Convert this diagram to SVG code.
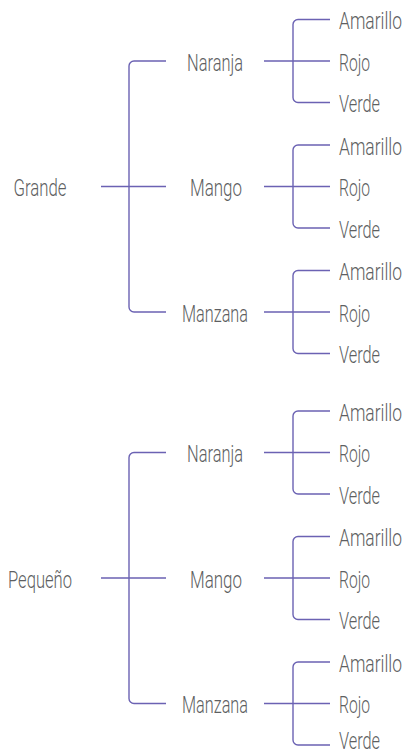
<svg xmlns="http://www.w3.org/2000/svg" width="406" height="756" viewBox="0 0 406 756">
<style>
.c{fill:none;stroke:#6b62b3;stroke-width:1.4}
text{font-family:Roboto,"Liberation Sans",Arial,sans-serif;font-weight:300;font-size:24px;fill:#5e5f62}
.m{text-anchor:middle}
</style>
<rect width="406" height="756" fill="#fff"/>
<g id="connectors">
<path class="c" d="M101 186.5H166M166 61H134A5 5 0 0 0 129 66V307A5 5 0 0 0 134 312H166"/>
<path class="c" d="M264 61H330M330 19.5H298A5 5 0 0 0 293 24.5V97.5A5 5 0 0 0 298 102.5H330"/>
<path class="c" d="M264 186.5H330M330 145H298A5 5 0 0 0 293 150V223A5 5 0 0 0 298 228H330"/>
<path class="c" d="M264 312H330M330 270.5H298A5 5 0 0 0 293 275.5V348.5A5 5 0 0 0 298 353.5H330"/>
<path class="c" d="M101 578H166M166 452.5H134A5 5 0 0 0 129 457.5V698.5A5 5 0 0 0 134 703.5H166"/>
<path class="c" d="M264 452.5H330M330 411H298A5 5 0 0 0 293 416V489A5 5 0 0 0 298 494H330"/>
<path class="c" d="M264 578H330M330 536.5H298A5 5 0 0 0 293 541.5V614.5A5 5 0 0 0 298 619.5H330"/>
<path class="c" d="M264 703.5H330M330 662H298A5 5 0 0 0 293 667V740A5 5 0 0 0 298 745H330"/>
</g>
<g id="grande"><text class="m" transform="translate(40 196) scale(0.7 1)" textLength="75.7" lengthAdjust="spacingAndGlyphs">Grande</text></g>
<g id="g-naranja"><text class="m" transform="translate(215 70.5) scale(0.7 1)" textLength="80" lengthAdjust="spacingAndGlyphs">Naranja</text></g>
<g id="g-mango"><text class="m" transform="translate(216 196) scale(0.7 1)" textLength="74.3" lengthAdjust="spacingAndGlyphs">Mango</text></g>
<g id="g-manzana"><text class="m" transform="translate(215 321.5) scale(0.7 1)" textLength="94.3" lengthAdjust="spacingAndGlyphs">Manzana</text></g>
<g id="g-naranja-amarillo"><text transform="translate(339 29) scale(0.7 1)" textLength="90" lengthAdjust="spacingAndGlyphs">Amarillo</text></g>
<g id="g-naranja-rojo"><text transform="translate(339 70.5) scale(0.7 1)" textLength="44.3" lengthAdjust="spacingAndGlyphs">Rojo</text></g>
<g id="g-naranja-verde"><text transform="translate(339 112) scale(0.7 1)" textLength="58.6" lengthAdjust="spacingAndGlyphs">Verde</text></g>
<g id="g-mango-amarillo"><text transform="translate(339 154.5) scale(0.7 1)" textLength="90" lengthAdjust="spacingAndGlyphs">Amarillo</text></g>
<g id="g-mango-rojo"><text transform="translate(339 196) scale(0.7 1)" textLength="44.3" lengthAdjust="spacingAndGlyphs">Rojo</text></g>
<g id="g-mango-verde"><text transform="translate(339 237.5) scale(0.7 1)" textLength="58.6" lengthAdjust="spacingAndGlyphs">Verde</text></g>
<g id="g-manzana-amarillo"><text transform="translate(339 280) scale(0.7 1)" textLength="90" lengthAdjust="spacingAndGlyphs">Amarillo</text></g>
<g id="g-manzana-rojo"><text transform="translate(339 321.5) scale(0.7 1)" textLength="44.3" lengthAdjust="spacingAndGlyphs">Rojo</text></g>
<g id="g-manzana-verde"><text transform="translate(339 363) scale(0.7 1)" textLength="58.6" lengthAdjust="spacingAndGlyphs">Verde</text></g>
<g id="pequeno"><text class="m" transform="translate(40 587.5) scale(0.7 1)" textLength="91.4" lengthAdjust="spacingAndGlyphs">Pequeño</text></g>
<g id="p-naranja"><text class="m" transform="translate(215 462) scale(0.7 1)" textLength="80" lengthAdjust="spacingAndGlyphs">Naranja</text></g>
<g id="p-mango"><text class="m" transform="translate(216 587.5) scale(0.7 1)" textLength="74.3" lengthAdjust="spacingAndGlyphs">Mango</text></g>
<g id="p-manzana"><text class="m" transform="translate(215 713) scale(0.7 1)" textLength="94.3" lengthAdjust="spacingAndGlyphs">Manzana</text></g>
<g id="p-naranja-amarillo"><text transform="translate(339 420.5) scale(0.7 1)" textLength="90" lengthAdjust="spacingAndGlyphs">Amarillo</text></g>
<g id="p-naranja-rojo"><text transform="translate(339 462) scale(0.7 1)" textLength="44.3" lengthAdjust="spacingAndGlyphs">Rojo</text></g>
<g id="p-naranja-verde"><text transform="translate(339 503.5) scale(0.7 1)" textLength="58.6" lengthAdjust="spacingAndGlyphs">Verde</text></g>
<g id="p-mango-amarillo"><text transform="translate(339 546) scale(0.7 1)" textLength="90" lengthAdjust="spacingAndGlyphs">Amarillo</text></g>
<g id="p-mango-rojo"><text transform="translate(339 587.5) scale(0.7 1)" textLength="44.3" lengthAdjust="spacingAndGlyphs">Rojo</text></g>
<g id="p-mango-verde"><text transform="translate(339 629) scale(0.7 1)" textLength="58.6" lengthAdjust="spacingAndGlyphs">Verde</text></g>
<g id="p-manzana-amarillo"><text transform="translate(339 671.5) scale(0.7 1)" textLength="90" lengthAdjust="spacingAndGlyphs">Amarillo</text></g>
<g id="p-manzana-rojo"><text transform="translate(339 713) scale(0.7 1)" textLength="44.3" lengthAdjust="spacingAndGlyphs">Rojo</text></g>
<g id="p-manzana-verde"><text transform="translate(339 749) scale(0.7 1)" textLength="58.6" lengthAdjust="spacingAndGlyphs">Verde</text></g>
</svg>
